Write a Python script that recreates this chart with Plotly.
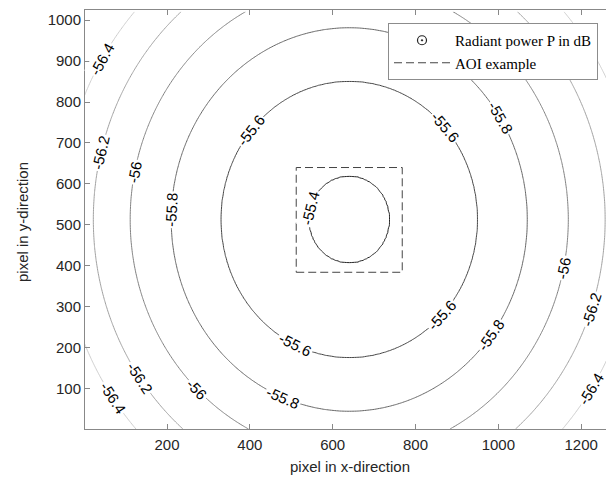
import numpy as np
import plotly.graph_objects as go

# ---- data ----
# contour levels (dB) and their horizontal radius (pixels) from the optical centre
profile_radius = [0, 98, 310, 430, 529, 618, 697, 900]
profile_power = [-55.38, -55.4, -55.6, -55.8, -56.0, -56.2, -56.4, -56.9]
centre_x = 640
centre_y = 513
y_stretch = 1.09          # contours are slightly elongated vertically

sensor_width = 1280
sensor_height = 1024

# area of interest example (pixels)
aoi_x = [512, 768, 768, 512, 512]
aoi_y = [384, 384, 640, 640, 384]

x_ticks = [200, 400, 600, 800, 1000, 1200]
y_ticks = [100, 200, 300, 400, 500, 600, 700, 800, 900, 1000]

# contour labels: level and where along the contour (polar angle, deg) it sits
label_levels = [-56.4, -56.4, -56.4, -56.2, -56.2, -56.2, -56.0, -56.0, -56.0,
                -55.8, -55.8, -55.8, -55.8, -55.6, -55.6, -55.6, -55.6, -55.4]
label_placement = [149, 215, -33, 166, 215, -19, 168.5, 226, -12,
                   177, 248, 32, -37, 140, 245, 42, -44, 165]

# ---- layout geometry ----
W, H = 606, 481
ML, MR, MT, MB = 85, 0, 10, 52
x_range = [2, 1260]
y_range = [1, 1025]
sx = (W - ML - MR) / (x_range[1] - x_range[0])
sy = (H - MT - MB) / (y_range[1] - y_range[0])

# ---- field on the pixel grid ----
xs = np.arange(1, sensor_width + 1, 4)
ys = np.arange(1, sensor_height + 1, 4)
X, Y = np.meshgrid(xs, ys)
R = np.sqrt((X - centre_x) ** 2 + ((Y - centre_y) / y_stretch) ** 2)
Z = np.interp(R, profile_radius, profile_power)

level_colors = [
    [0.0, "#cdcdcd"],
    [0.2, "#a0a0a0"],
    [0.4, "#808080"],
    [0.6, "#666666"],
    [0.8, "#454545"],
    [1.0, "#222222"],
]

fig = go.Figure()
fig.add_trace(go.Contour(
    x=xs, y=ys, z=Z,
    zmin=-56.4, zmax=-55.4,
    contours=dict(start=-56.4, end=-55.4, size=0.2, coloring="lines",
                  showlabels=False),
    colorscale=level_colors,
    line=dict(width=1),
    showscale=False,
    hoverinfo="skip",
    showlegend=False,
))
# legend entry for the contour plot
fig.add_trace(go.Scatter(
    x=[None], y=[None], mode="markers",
    marker=dict(symbol="circle-open-dot", size=9, color="#222",
                line=dict(width=1.2, color="#222")),
    name="Radiant power P in dB",
))
fig.add_trace(go.Scatter(
    x=aoi_x, y=aoi_y, mode="lines",
    line=dict(color="#444", width=1, dash="8px,4px"),
    name="AOI example",
    hoverinfo="skip",
))

# contour labels, rotated along the contour
level_to_radius = dict(zip(profile_power, profile_radius))
annotations = []
for lvl, ang in zip(label_levels, label_placement):
    r = level_to_radius[lvl]
    t = np.radians(ang)
    lx = centre_x + r * np.cos(t)
    ly = centre_y + r * y_stretch * np.sin(t)
    dpx = -np.sin(t) * sx
    dpy_screen = -(y_stretch * np.cos(t) * sy)
    a = np.degrees(np.arctan2(dpy_screen, dpx))
    while a > 89.9:
        a -= 180
    while a <= -90.1:
        a += 180
    annotations.append(dict(
        x=lx, y=ly, xref="x", yref="y", text=f"{lvl:g}", showarrow=False,
        textangle=a, bgcolor="white", borderpad=1,
        font=dict(family="Liberation Sans", size=15, color="black"),
        xanchor="center", yanchor="middle",
    ))

axis_font = dict(family="Liberation Sans", size=15, color="#262626")
annotations.append(dict(
    x=(350 - ML) / (W - ML - MR), y=(H - MB - 467) / (H - MT - MB),
    xref="paper", yref="paper", text="pixel in x-direction", showarrow=False,
    font=axis_font, xanchor="center", yanchor="middle"))
annotations.append(dict(
    x=(22 - ML) / (W - ML - MR), y=(H - MB - 222) / (H - MT - MB),
    xref="paper", yref="paper", text="pixel in y-direction", showarrow=False,
    font=axis_font, textangle=-90, xanchor="center", yanchor="middle"))

fig.update_layout(
    width=W, height=H,
    margin=dict(l=ML, r=MR, t=MT, b=MB, autoexpand=False),
    paper_bgcolor="white", plot_bgcolor="white",
    font=axis_font,
    showlegend=True,
    annotations=annotations,
    legend=dict(
        x=(598 - ML) / (W - ML - MR), xanchor="right",
        y=(H - MB - 23) / (H - MT - MB), yanchor="top",
        bgcolor="white", bordercolor="#8c8c8c", borderwidth=1,
        font=dict(family="Liberation Serif", size=15, color="black"),
        itemwidth=56, tracegroupgap=0,
    ),
    xaxis=dict(
        range=x_range, tickvals=x_ticks, ticks="inside", ticklen=5,
        tickcolor="#888", showline=True, linecolor="#888", linewidth=1,
        mirror="ticks", showgrid=False, zeroline=False, automargin=False,
        tickfont=axis_font, ticklabelstandoff=2,
    ),
    yaxis=dict(
        range=y_range, tickvals=y_ticks, ticks="inside", ticklen=5,
        tickcolor="#888", showline=True, linecolor="#888", linewidth=1,
        mirror=False, showgrid=False, zeroline=False, automargin=False,
        tickfont=axis_font,
    ),
)

fig.write_html(
    "out.html",
    config={"displayModeBar": False},
    post_script="document.body.style.margin='0';document.body.style.overflow='hidden';",
)
